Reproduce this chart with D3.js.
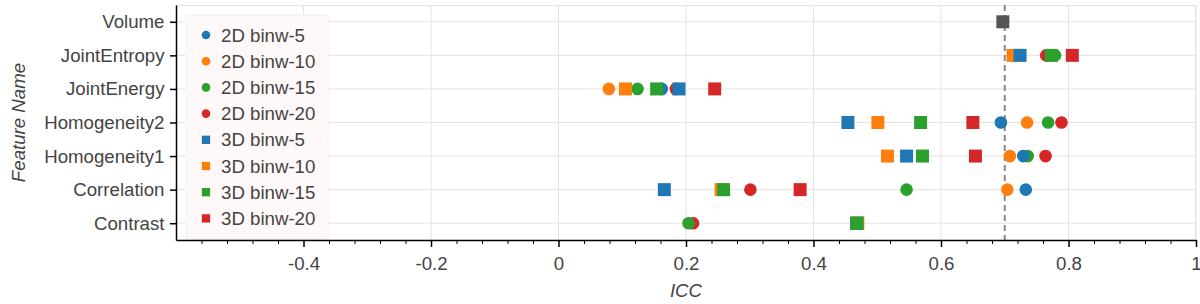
<!DOCTYPE html>
<html>
<head>
<meta charset="utf-8">
<script src="https://cdn.jsdelivr.net/npm/d3@7"></script>
<style>
  body { margin: 0; background: #fff; }
  svg text { font-family: "Liberation Sans", Arial, sans-serif; fill: #444; }
</style>
</head>
<body>
<div id="chart"></div>
<script>
// feature names, top to bottom
var features = ["Volume", "JointEntropy", "JointEnergy", "Homogeneity2", "Homogeneity1", "Correlation", "Contrast"];

// ICC values per feature (same order as features), null = no marker
var icc2d_binw5  = [null, 0.722, 0.162, 0.694, 0.729, 0.733, null];
var icc2d_binw10 = [null, 0.713, 0.079, 0.735, 0.708, 0.704, null];
var icc2d_binw15 = [null, 0.779, 0.124, 0.768, 0.736, 0.546, 0.204];
var icc2d_binw20 = [null, 0.765, 0.184, 0.789, 0.764, 0.301, 0.211];
var icc3d_binw5  = [null, 0.724, 0.189, 0.454, 0.546, 0.166, 0.468];
var icc3d_binw10 = [null, 0.713, 0.105, 0.501, 0.516, 0.255, 0.4695];
var icc3d_binw15 = [null, 0.773, 0.154, 0.568, 0.571, 0.259, 0.468];
var icc3d_binw20 = [null, 0.806, 0.245, 0.650, 0.654, 0.379, 0.468];
var volumeIcc = [0.697];

var xMajorTicks = [-0.4, -0.2, 0, 0.2, 0.4, 0.6, 0.8, 1];
var threshold = 0.7;

var series = [
    { name: "2D binw-5",  values: icc2d_binw5,  color: "#1f77b4", shape: "circle" },
    { name: "2D binw-10", values: icc2d_binw10, color: "#ff7f0e", shape: "circle" },
    { name: "2D binw-15", values: icc2d_binw15, color: "#2ca02c", shape: "circle" },
    { name: "2D binw-20", values: icc2d_binw20, color: "#d62728", shape: "circle" },
    { name: "3D binw-5",  values: icc3d_binw5,  color: "#1f77b4", shape: "square" },
    { name: "3D binw-10", values: icc3d_binw10, color: "#ff7f0e", shape: "square" },
    { name: "3D binw-15", values: icc3d_binw15, color: "#2ca02c", shape: "square" },
    { name: "3D binw-20", values: icc3d_binw20, color: "#d62728", shape: "square" }
];
// drawing order (which trace ends up on top)
var drawOrder = [3, 1, 2, 0, 7, 5, 4, 6];

var width = 1200, height = 304;
var mLeft = 176, mRight = 1196, mTop = 5, mBottom = 240;
var fontSize = "18.67px";

var svg = d3.select("#chart").append("svg")
    .attr("width", width)
    .attr("height", height);

var x = d3.scaleLinear().domain([-0.6, 1]).range([mLeft, mRight]);
var y = d3.scalePoint().domain(features).range([mTop, mBottom]).padding(0.5);

// grid
var grid = svg.append("g").attr("stroke", "#e3e3e3").attr("stroke-width", 1);
grid.selectAll("line.v")
    .data(xMajorTicks)
    .enter().append("line")
    .attr("x1", function(d) { return x(d); })
    .attr("x2", function(d) { return x(d); })
    .attr("y1", mTop).attr("y2", mBottom);
grid.selectAll("line.h")
    .data(features)
    .enter().append("line")
    .attr("x1", mLeft).attr("x2", mRight)
    .attr("y1", function(d) { return y(d); })
    .attr("y2", function(d) { return y(d); });
grid.append("line").attr("x1", mLeft).attr("x2", mRight).attr("y1", mTop + 0.5).attr("y2", mTop + 0.5);
grid.append("line").attr("x1", mRight - 0.5).attr("x2", mRight - 0.5).attr("y1", mTop).attr("y2", mBottom);

// dashed reference line
svg.append("line")
    .attr("x1", x(threshold)).attr("x2", x(threshold))
    .attr("y1", mTop).attr("y2", mBottom)
    .attr("stroke", "#888")
    .attr("stroke-width", 2)
    .attr("stroke-dasharray", "6,4");

// markers
var circleSym = d3.symbol().type(d3.symbolCircle).size(125);
var squareSym = d3.symbol().type(d3.symbolSquare).size(169);

drawOrder.forEach(function(si) {
    var s = series[si];
    var pts = features.map(function(f, i) { return { f: f, v: s.values[i] }; })
        .filter(function(d) { return d.v != null; });
    svg.append("g").selectAll("path")
        .data(pts)
        .enter().append("path")
        .attr("d", s.shape === "circle" ? circleSym : squareSym)
        .attr("transform", function(d) { return "translate(" + x(d.v) + "," + y(d.f) + ")"; })
        .attr("fill", s.color);
});

svg.append("g").selectAll("path")
    .data(volumeIcc)
    .enter().append("path")
    .attr("d", squareSym)
    .attr("transform", function(d) { return "translate(" + x(d) + "," + y("Volume") + ")"; })
    .attr("fill", "#555");

// legend
var legend = svg.append("g");
legend.append("rect")
    .attr("x", 186).attr("y", 15)
    .attr("width", 142).attr("height", 224)
    .attr("fill", "#fff8f8")
    .attr("stroke", "#f7eded");
var legendCircle = d3.symbol().type(d3.symbolCircle).size(58);
var legendSquare = d3.symbol().type(d3.symbolSquare).size(69);
var items = legend.selectAll("g.item")
    .data(series)
    .enter().append("g")
    .attr("transform", function(d, i) { return "translate(206," + (35 + i * 26.2) + ")"; });
items.append("path")
    .attr("d", function(d) { return d.shape === "circle" ? legendCircle() : legendSquare(); })
    .attr("fill", function(d) { return d.color; });
items.append("text")
    .attr("x", 15)
    .attr("dy", "0.35em")
    .style("font-size", fontSize)
    .text(function(d) { return d.name; });

// x axis: major + minor ticks
var minorTicks = d3.range(-0.56, 1.0, 0.04).map(function(d) { return +d.toFixed(2); })
    .filter(function(d) { return xMajorTicks.indexOf(d) < 0; });

var xMinor = svg.append("g")
    .attr("transform", "translate(0," + mBottom + ")")
    .call(d3.axisBottom(x).tickValues(minorTicks).tickSize(4).tickFormat(""));
xMinor.select(".domain").remove();
xMinor.selectAll(".tick line").attr("stroke", "#000");

var xAxis = svg.append("g")
    .attr("transform", "translate(0," + mBottom + ")")
    .call(d3.axisBottom(x).tickValues(xMajorTicks).tickSize(7).tickSizeOuter(0).tickPadding(9.5)
        .tickFormat(function(d) { return String(+d.toFixed(1)); }));
xAxis.selectAll("text").style("font-size", fontSize).attr("fill", "#444");
xAxis.selectAll("line, .domain").attr("stroke", "#000").attr("stroke-width", 1.5);

// y axis
var yAxis = svg.append("g")
    .attr("transform", "translate(" + mLeft + ",0)")
    .call(d3.axisLeft(y).tickSize(6).tickSizeOuter(0).tickPadding(5.5));
yAxis.selectAll("text").style("font-size", fontSize).attr("fill", "#444");
yAxis.selectAll("line, .domain").attr("stroke", "#000").attr("stroke-width", 1.5);

// axis titles
svg.append("text")
    .attr("x", (mLeft + mRight) / 2)
    .attr("y", 297)
    .attr("text-anchor", "middle")
    .style("font-size", fontSize)
    .style("font-style", "italic")
    .text("ICC");

svg.append("text")
    .attr("transform", "translate(25," + ((mTop + mBottom) / 2) + ") rotate(-90)")
    .attr("text-anchor", "middle")
    .style("font-size", fontSize)
    .style("font-style", "italic")
    .text("Feature Name");
</script>
</body>
</html>
